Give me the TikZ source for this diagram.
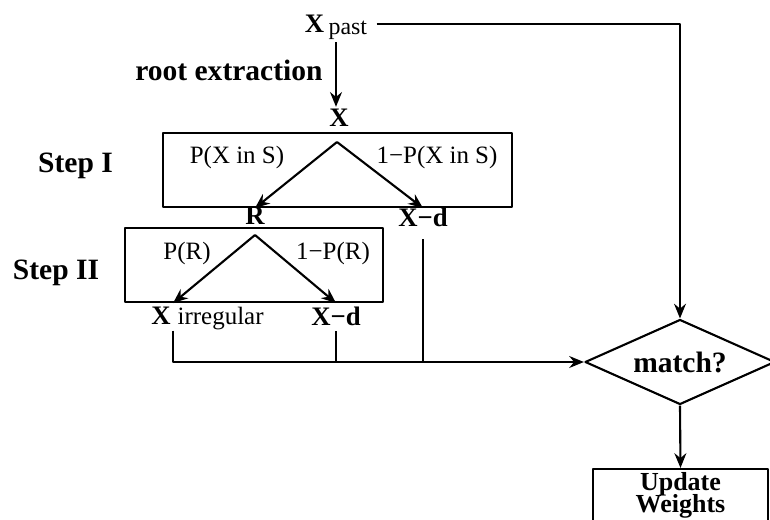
\documentclass[tikz,border=0pt]{standalone}
\usepackage{fontspec}
\setmainfont{Liberation Serif}
\usetikzlibrary{arrows.meta,shapes.geometric}
\newcommand\tightlines{\lineskiplimit=-10pt\relax}

\begin{document}
\begin{tikzpicture}[>={Stealth[length=4.2pt,width=3.4pt,inset=1.4pt]},line join=round,
  wire/.style={line width=0.6pt},
  frame/.style={draw,wire,inner sep=0pt},
  var/.style={inner sep=0.5pt,font=\bfseries\fontsize{7.6}{8}\selectfont},
  prob/.style={inner sep=0.5pt,font=\fontsize{7.1}{8}\selectfont},
  tag/.style={inner sep=0.5pt,font=\bfseries\fontsize{8.4}{9}\selectfont}]
  \useasboundingbox (0,0) rectangle (7.70,-5.19);
  \clip (0,0) rectangle (7.70,-5.19);

  % input and root extraction
  \node[var] (Xpast) at (3.36,-0.275) {X\,\raisebox{-0.7pt}{\mdseries\fontsize{6.8}{7}\selectfont past}};
  \node[var] (X) at (3.39,-1.18) {X};
  \node[tag,anchor=east] (root) at (3.25,-0.70) {root extraction};
  \draw[wire,->] (Xpast.south) -- (Xpast.south |- X.north);

  % step I
  \node[frame,minimum width=3.49cm,minimum height=0.74cm] (boxI) at (3.375,-1.70) {};
  \coordinate (topI) at (3.37,-1.42);
  \node[var] (R) at (2.55,-2.16) {R};
  \node[var] (XdI) at (4.23,-2.17) {X−d};
  \node[prob] (pI) at (2.37,-1.575) {P(X in S)};
  \node[prob] (qI) at (4.37,-1.575) {1−P(X in S)};
  \node[tag] (stepI) at (0.755,-1.66) {Step I};
  \draw[wire,->] (topI) -- (R.north |- boxI.south);
  \draw[wire,->] (topI) -- (XdI.north |- boxI.south);

  % step II
  \node[frame,minimum width=2.58cm,minimum height=0.74cm] (boxII) at (2.54,-2.65) {};
  \coordinate (topII) at (2.55,-2.35);
  \node[var] (Xirr) at (1.61,-3.16) {X};
  \node[prob,anchor=base west] (irr) at ([xshift=0.6pt]Xirr.base east) {irregular};
  \node[var] (XdII) at (3.36,-3.16) {X−d};
  \node[prob] (pII) at (1.87,-2.535) {P(R)};
  \node[prob] (qII) at (3.33,-2.535) {1−P(R)};
  \node[tag] (stepII) at (0.56,-2.73) {Step II};
  \draw[wire,->] (topII) -- (Xirr.north east |- boxII.south);
  \draw[wire,->] (topII) -- (XdII.north |- boxII.south);

  % decision
  \node[draw,wire,diamond,shape aspect=2.2,minimum width=1.90cm,minimum height=0.85cm,inner sep=0pt,
    font=\bfseries\fontsize{8.4}{9}\selectfont] (match) at (6.80,-3.62) {match?};
  \node[draw,wire,align=center,minimum width=1.75cm,minimum height=0.52cm,inner sep=0.5pt,
    font=\bfseries\fontsize{7.4}{6.2}\selectfont\tightlines] (upd) at (6.805,-4.95) {Update\\Weights};

  \draw[wire,->,shorten <=2pt] ([yshift=1pt]Xpast.east) -| (match.north);
  \draw[wire,->,shorten <=1pt] (Xirr.south east) |- (match.west);
  \draw[wire,shorten <=1pt] (XdII.south) -- (XdII.south |- match.west);
  \draw[wire,shorten <=3pt] (XdI.south) -- (XdI.south |- match.west);
  \draw[wire,->] (match.south) -- (upd.north);
\end{tikzpicture}
\end{document}
